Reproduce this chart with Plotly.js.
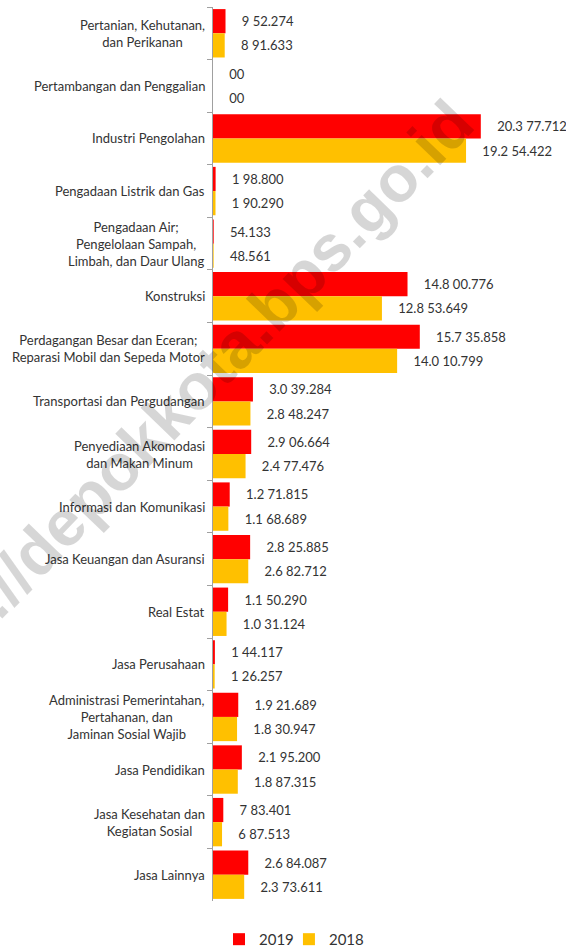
<!DOCTYPE html>
<html>
<head>
<meta charset="utf-8">
<script src="https://cdn.plot.ly/plotly-3.0.1.min.js"></script>
<style>
html,body{margin:0;padding:0;background:#fff;}
#chart{width:566px;height:947px;}
</style>
</head>
<body>
<div id="chart"></div>
<script>
// ---- data ----
var categories = [
  "Pertanian, Kehutanan,<br>dan Perikanan",
  "Pertambangan dan Penggalian",
  "Industri Pengolahan",
  "Pengadaan Listrik dan Gas",
  "Pengadaan Air;<br>Pengelolaan Sampah,<br>Limbah, dan Daur Ulang",
  "Konstruksi",
  "Perdagangan Besar dan Eceran;<br>Reparasi Mobil dan Sepeda Motor",
  "Transportasi dan Pergudangan",
  "Penyediaan Akomodasi<br>dan Makan Minum",
  "Informasi dan Komunikasi",
  "Jasa Keuangan dan Asuransi",
  "Real Estat",
  "Jasa Perusahaan",
  "Administrasi Pemerintahan,<br>Pertahanan, dan<br>Jaminan Sosial Wajib",
  "Jasa Pendidikan",
  "Jasa Kesehatan dan<br>Kegiatan Sosial",
  "Jasa Lainnya"
];
var values2019 = [952274, 0, 20377712, 198800, 54133, 14800776, 15735858, 3039284, 2906664, 1271815, 2825885, 1150290, 144117, 1921689, 2195200, 783401, 2684087];
var values2018 = [891633, 0, 19254422, 190290, 48561, 12853649, 14010799, 2848247, 2477476, 1168689, 2682712, 1031124, 126257, 1830947, 1887315, 687513, 2373611];
var labels2019 = ["9 52.274", "00", "20.3 77.712", "1 98.800", "54.133", "14.8 00.776", "15.7 35.858", "3.0 39.284", "2.9 06.664", "1.2 71.815", "2.8 25.885", "1.1 50.290", "1 44.117", "1.9 21.689", "2.1 95.200", "7 83.401", "2.6 84.087"];
var labels2018 = ["8 91.633", "00", "19.2 54.422", "1 90.290", "48.561", "12.8 53.649", "14.0 10.799", "2.8 48.247", "2.4 77.476", "1.1 68.689", "2.6 82.712", "1.0 31.124", "1 26.257", "1.8 30.947", "1.8 87.315", "6 87.513", "2.3 73.611"];
var seriesNames = ["2019", "2018"];
var watermark = "http://depokkota.bps.go.id";

// ---- styles ----
var pad = "\u00a0\u00a0\u00a0\u00a0";
var fontFam = "Lato, 'Open Sans', sans-serif";
var textCol = "#333333";

function mkTrace(vals, labs, name, color, leg) {
  return {
    type: "bar", orientation: "h",
    x: vals, y: categories, name: name, legend: leg,
    marker: {color: color, line: {width: 0}},
    text: labs.map(function(s){ return pad + s; }),
    textposition: "outside",
    textfont: {family: fontFam, size: 13, color: textCol},
    constraintext: "none",
    cliponaxis: false,
    hoverinfo: "x+y"
  };
}

var data = [
  mkTrace(values2019, labels2019, seriesNames[0], "#FF0000", "legend"),
  mkTrace(values2018, labels2018, seriesNames[1], "#FFC000", "legend2")
];

var annotations = categories.map(function(c){
  return {
    xref: "paper", yref: "y", x: 0, y: c,
    text: c, showarrow: false,
    xanchor: "right", yanchor: "middle", align: "center",
    xshift: -6,
    font: {family: fontFam, size: 13, color: textCol}
  };
});
annotations.push({
  xref: "paper", yref: "paper", x: -0.0963, y: 0.556,
  text: watermark, showarrow: false, textangle: -46,
  xanchor: "center", yanchor: "middle",
  font: {family: "'Liberation Sans', Arial, sans-serif", size: 65, color: "rgba(0,0,0,0.16)", weight: "bold"}
});

function mkLegend(xpos) {
  return {
    orientation: "h",
    xref: "container", yref: "container",
    x: xpos, xanchor: "left", y: 0.008, yanchor: "middle",
    font: {family: fontFam, size: 15, color: textCol},
    bgcolor: "rgba(0,0,0,0)"
  };
}

var layout = {
  width: 566, height: 947,
  margin: {l: 213, r: 0, t: 7, b: 46},
  paper_bgcolor: "#ffffff", plot_bgcolor: "#ffffff",
  barmode: "group", bargap: 0.08, bargroupgap: 0,
  xaxis: {visible: false, range: [0, 26.86e6], fixedrange: true},
  yaxis: {
    type: "category", range: [16.5, -0.5],
    showline: true, linecolor: "#a0a0a0", linewidth: 1,
    ticks: "outside", tickson: "boundaries", ticklen: 5, tickcolor: "#a0a0a0",
    showticklabels: false, showgrid: false, zeroline: false, fixedrange: true
  },
  showlegend: true,
  legend: mkLegend(0.3869),
  legend2: mkLegend(0.5105),
  annotations: annotations
};

Plotly.newPlot("chart", data, layout, {displayModeBar: false, staticPlot: true});
</script>
</body>
</html>
